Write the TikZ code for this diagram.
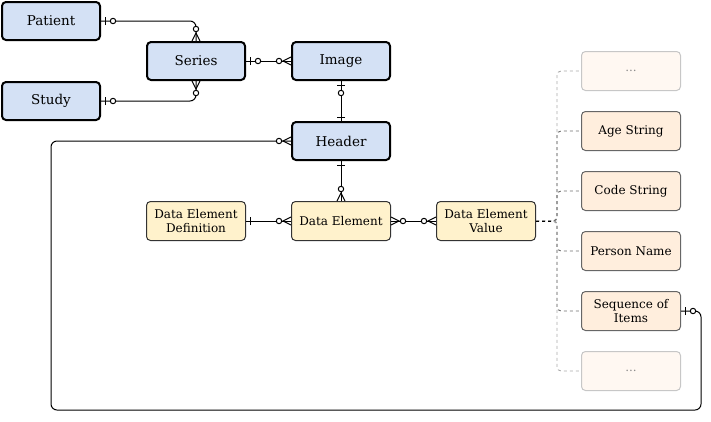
\documentclass[tikz,border=0pt]{standalone}
\usepackage{fontspec}
\setmainfont{DejaVu Serif}
\usetikzlibrary{calc}
\definecolor{bluefill}{HTML}{D4E1F5}
\definecolor{yelfill}{HTML}{FFF2CC}
\definecolor{orfill}{HTML}{FFEEDD}
\definecolor{fadefill}{HTML}{FFF8F2}
\definecolor{dashgray}{HTML}{6E6E6E}
\definecolor{dashlight}{HTML}{AAAAAA}
\tikzset{
  ent/.style={draw=black, line width=2pt, fill=bluefill, rounded corners=4pt,
    minimum width=98pt, minimum height=38pt, inner sep=0pt,
    font=\fontsize{13.5}{16}\selectfont},
  yel/.style={draw=black!80, line width=1pt, fill=yelfill, rounded corners=4pt,
    minimum width=99pt, minimum height=39pt, inner sep=0pt, align=center,
    font=\fontsize{12}{14.5}\selectfont},
  orb/.style={draw=black!60, line width=1pt, fill=orfill, rounded corners=4pt,
    minimum width=99pt, minimum height=39pt, inner sep=0pt, align=center,
    font=\fontsize{12}{14.5}\selectfont},
  fadeb/.style={draw=black!22, line width=1pt, fill=fadefill, rounded corners=4pt,
    minimum width=99pt, minimum height=39pt, inner sep=0pt, align=center,
    text=black!45, font=\fontsize{12}{14.5}\selectfont},
  conn/.style={draw=black, line width=1pt, rounded corners=6pt},
  dline/.style={draw=dashgray, line width=0.9pt, dash pattern=on 3pt off 3pt, rounded corners=4pt},
  dlight/.style={draw=dashlight, line width=0.9pt, dash pattern=on 3pt off 3pt, rounded corners=4pt},
  mk/.style={draw=black, line width=1pt},
  zmany/.pic={\draw[mk] (0,4)--(8,0)--(0,-4); \draw[mk,fill=white] (12,0) circle (2.7);},
  zone/.pic={\draw[mk] (4,4)--(4,-4); \draw[mk,fill=white] (12,0) circle (2.7);},
  onebar/.pic={\draw[mk] (4,4)--(4,-4);},
}
\begin{document}
\begin{tikzpicture}[x=1pt,y=-1pt]
\useasboundingbox (0,0) rectangle (711,421);
% entities
\node[ent] (patient) at (51,21) {Patient};
\node[ent] (series) at (196,61) {Series};
\node[ent] (study) at (51,101) {Study};
\node[ent] (image) at (341,61) {Image};
\node[ent] (header) at (341,141) {Header};
\node[yel] (ded) at (196,221) {Data Element\\Definition};
\node[yel] (de) at (341,221) {Data Element};
\node[yel] (dev) at (486,221) {Data Element\\Value};
\node[fadeb] (c1) at (631,71) {...};
\node[orb] (c2) at (631,131) {Age String};
\node[orb] (c3) at (631,191) {Code String};
\node[orb] (c4) at (631,251) {Person Name};
\node[orb] (c5) at (631,311) {Sequence of\\Items};
\node[fadeb] (c6) at (631,371) {...};
% dashed value-type connectors
\coordinate (split) at ($(dev.east)+(21,0)$);
\draw[dlight] (dev.east) -- (split) |- (c1.west);
\draw[dline] (dev.east) -- (split) |- (c2.west);
\draw[dline] (dev.east) -- (split) |- (c3.west);
\draw[dline] (dev.east) -- (split) |- (c4.west);
\draw[dline] (dev.east) -- (split) |- (c5.west);
\draw[dlight] (dev.east) -- (split) |- (c6.west);
\draw[draw=black, line width=0.9pt, dash pattern=on 3pt off 3pt] (dev.east) -- ($(split)+(-3,0)$);
% relationships
\draw[conn] (patient.east) -| (series.north);
\draw[conn] (study.east) -| (series.south);
\draw[conn] (series.east) -- (image.west);
\draw[conn] (image.south) -- (header.north);
\draw[conn] (header.south) -- (de.north);
\draw[conn] (ded.east) -- (de.west);
\draw[conn] (de.east) -- (dev.west);
\coordinate (lb) at (51,410);
\coordinate (rt) at (701,311);
\draw[conn] (header.west) -| (lb) -| (rt) -- (c5.east);
% markers
\pic at (patient.east) {zone};
\pic at (study.east) {zone};
\pic[rotate=90] at (series.north) {zmany};
\pic[rotate=-90] at (series.south) {zmany};
\pic at (series.east) {zone};
\pic[rotate=180] at (image.west) {zmany};
\pic[rotate=-90] at (image.south) {zone};
\pic[rotate=90] at (header.north) {onebar};
\pic[rotate=-90] at (header.south) {onebar};
\pic[rotate=90] at (de.north) {zmany};
\pic at (ded.east) {onebar};
\pic[rotate=180] at (de.west) {zmany};
\pic at (de.east) {zmany};
\pic[rotate=180] at (dev.west) {zmany};
\pic[rotate=180] at (header.west) {zmany};
\pic at (c5.east) {zone};
\end{tikzpicture}
\end{document}
